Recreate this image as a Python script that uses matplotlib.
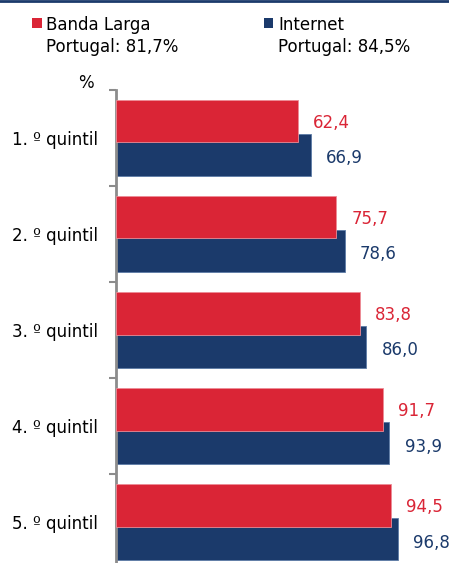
import matplotlib
matplotlib.use("Agg")
import matplotlib.pyplot as plt
from matplotlib.patches import Rectangle
from matplotlib.lines import Line2D
import numpy as np

categories = ["1. º quintil", "2. º quintil", "3. º quintil", "4. º quintil", "5. º quintil"]
banda_larga = [62.4, 75.7, 83.8, 91.7, 94.5]
internet = [66.9, 78.6, 86.0, 93.9, 96.8]
series_names = ["Banda Larga", "Internet"]
portugal_labels = ["Portugal: 81,7%", "Portugal: 84,5%"]

RED = "#DA2536"
BLUE = "#1B3A6B"
W, H = 449, 563

plt.rcParams['font.family'] = ['DejaVu Sans']
fig = plt.figure(figsize=(W / 100, H / 100), dpi=100)

# axes geometry (pixel based)
ax_left, ax_top, ax_bottom = 116, 90, 570.4
px_per_unit = 2.91
xmax = 100
ax = fig.add_axes([ax_left / W, 1 - ax_bottom / H, xmax * px_per_unit / W, (ax_bottom - ax_top) / H])

y = np.arange(len(categories))
h = 0.44
off = 0.175
ax.barh(y + off, internet, height=h, color=BLUE, edgecolor="#5D7BA6", linewidth=0.6, zorder=2)
ax.barh(y - off, banda_larga, height=h, color=RED, edgecolor="#EC8C96", linewidth=0.6, zorder=3)

for i, (r, b) in enumerate(zip(banda_larga, internet)):
    ax.annotate(f"{r:.1f}".replace(".", ","), (r, i - off), xytext=(11, -1), textcoords="offset points",
                color=RED, fontsize=12, va="center", ha="left")
    ax.annotate(f"{b:.1f}".replace(".", ","), (b, i + off), xytext=(11, -2.5), textcoords="offset points",
                color=BLUE, fontsize=12, va="center", ha="left")

ax.set_xlim(0, xmax)
ax.set_ylim(len(categories) - 0.5, -0.5)
for s in ["top", "right", "bottom"]:
    ax.spines[s].set_visible(False)
ax.spines["left"].set_color("#8C8C8C")
ax.spines["left"].set_linewidth(2)
ax.set_xticks([])
ax.set_yticks(y)
ax.set_yticklabels(categories, fontsize=12)
ax.tick_params(axis="y", which="major", length=0, pad=13)
ax.set_yticks(np.arange(len(categories) + 1) - 0.5, minor=True)
ax.tick_params(axis="y", which="minor", length=5, width=1.5, color="#8C8C8C")

# "%" label
fig.text(86 / W, 1 - 88 / H, "%", fontsize=12, ha="center", va="baseline")

# Legend drawn manually
def fx(px):
    return px / W
def fy(py):
    return 1 - py / H

for xpx, color, name, plab in [(32, RED, series_names[0], portugal_labels[0]),
                               (263.5, BLUE, series_names[1], portugal_labels[1])]:
    fig.patches.append(Rectangle((fx(xpx), fy(27.5)), 9.5 / W, 9.5 / H, transform=fig.transFigure,
                                 facecolor=color, edgecolor="none"))
    fig.text(fx(xpx + 14.5), fy(30.5), name, fontsize=12, ha="left", va="baseline")
    fig.text(fx(xpx + 14.5), fy(52.5), plab, fontsize=12, ha="left", va="baseline")

# top dark line
fig.add_artist(Line2D([0, 1], [1 - 1 / H, 1 - 1 / H], transform=fig.transFigure, color=BLUE, linewidth=2))

fig.savefig("out.png", dpi=100)
